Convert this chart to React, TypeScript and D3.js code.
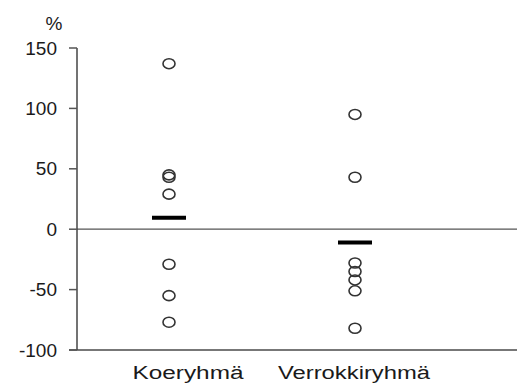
import React from "react";
import * as d3 from "d3";

const categories = ["Koeryhmä", "Verrokkiryhmä"];
const koeValues = [137, 45, 43, 29, -29, -55, -77];
const verrokkiValues = [95, 43, -28, -35, -42, -51, -82];
const means = [9.5, -11];
const yTicks = [150, 100, 50, 0, -50, -100];
const yUnit = "%";

const W = 517;
const H = 390;

export default function App() {
  const y = d3.scaleLinear().domain([-100, 150]).range([350, 48]);
  const x = d3.scalePoint<string>().domain(categories).range([169, 355]);
  const series = [koeValues, verrokkiValues];
  const labelDx = [19, -1];
  const labelLen = [111, 152];
  const axisX = 77;
  const font = "Liberation Sans, Arial, sans-serif";

  return (
    <svg width={W} height={H} style={{ position: "absolute", left: 0, top: 0, background: "#fff" }}>
      <line x1={axisX} x2={W} y1={y(0)} y2={y(0)} stroke="#555" strokeWidth={1.3} />
      <line x1={axisX - 8} x2={W} y1={y(-100)} y2={y(-100)} stroke="#777" strokeWidth={2} />
      <line x1={axisX} x2={axisX} y1={y(150)} y2={y(-100)} stroke="#444" strokeWidth={1.5} />
      {yTicks.map((t) => (
        <g key={t}>
          <line x1={axisX - 8} x2={axisX} y1={y(t)} y2={y(t)} stroke="#555" strokeWidth={1.5} />
          <text
            x={57}
            y={y(t)}
            dy="0.35em"
            textAnchor="end"
            fontFamily={font}
            fontSize={19}
            fill="#1a1a1a"
          >
            {t}
          </text>
        </g>
      ))}
      <text x={54} y={23} dy="0.35em" textAnchor="middle" fontFamily={font} fontSize={19} fill="#1a1a1a">
        {yUnit}
      </text>
      {categories.map((c, i) => (
        <g key={c}>
          {series[i].map((v, j) => (
            <ellipse
              key={j}
              cx={x(c)!}
              cy={y(v)}
              rx={6}
              ry={5}
              fill="none"
              stroke="#333"
              strokeWidth={1.6}
            />
          ))}
          <line
            x1={x(c)! - 17}
            x2={x(c)! + 17}
            y1={y(means[i])}
            y2={y(means[i])}
            stroke="#000"
            strokeWidth={4}
          />
          <text
            x={x(c)! + labelDx[i]}
            y={379}
            textAnchor="middle"
            fontFamily={font}
            fontSize={18}
            fill="#1a1a1a"
            textLength={labelLen[i]}
            lengthAdjust="spacingAndGlyphs"
          >
            {c}
          </text>
        </g>
      ))}
    </svg>
  );
}
